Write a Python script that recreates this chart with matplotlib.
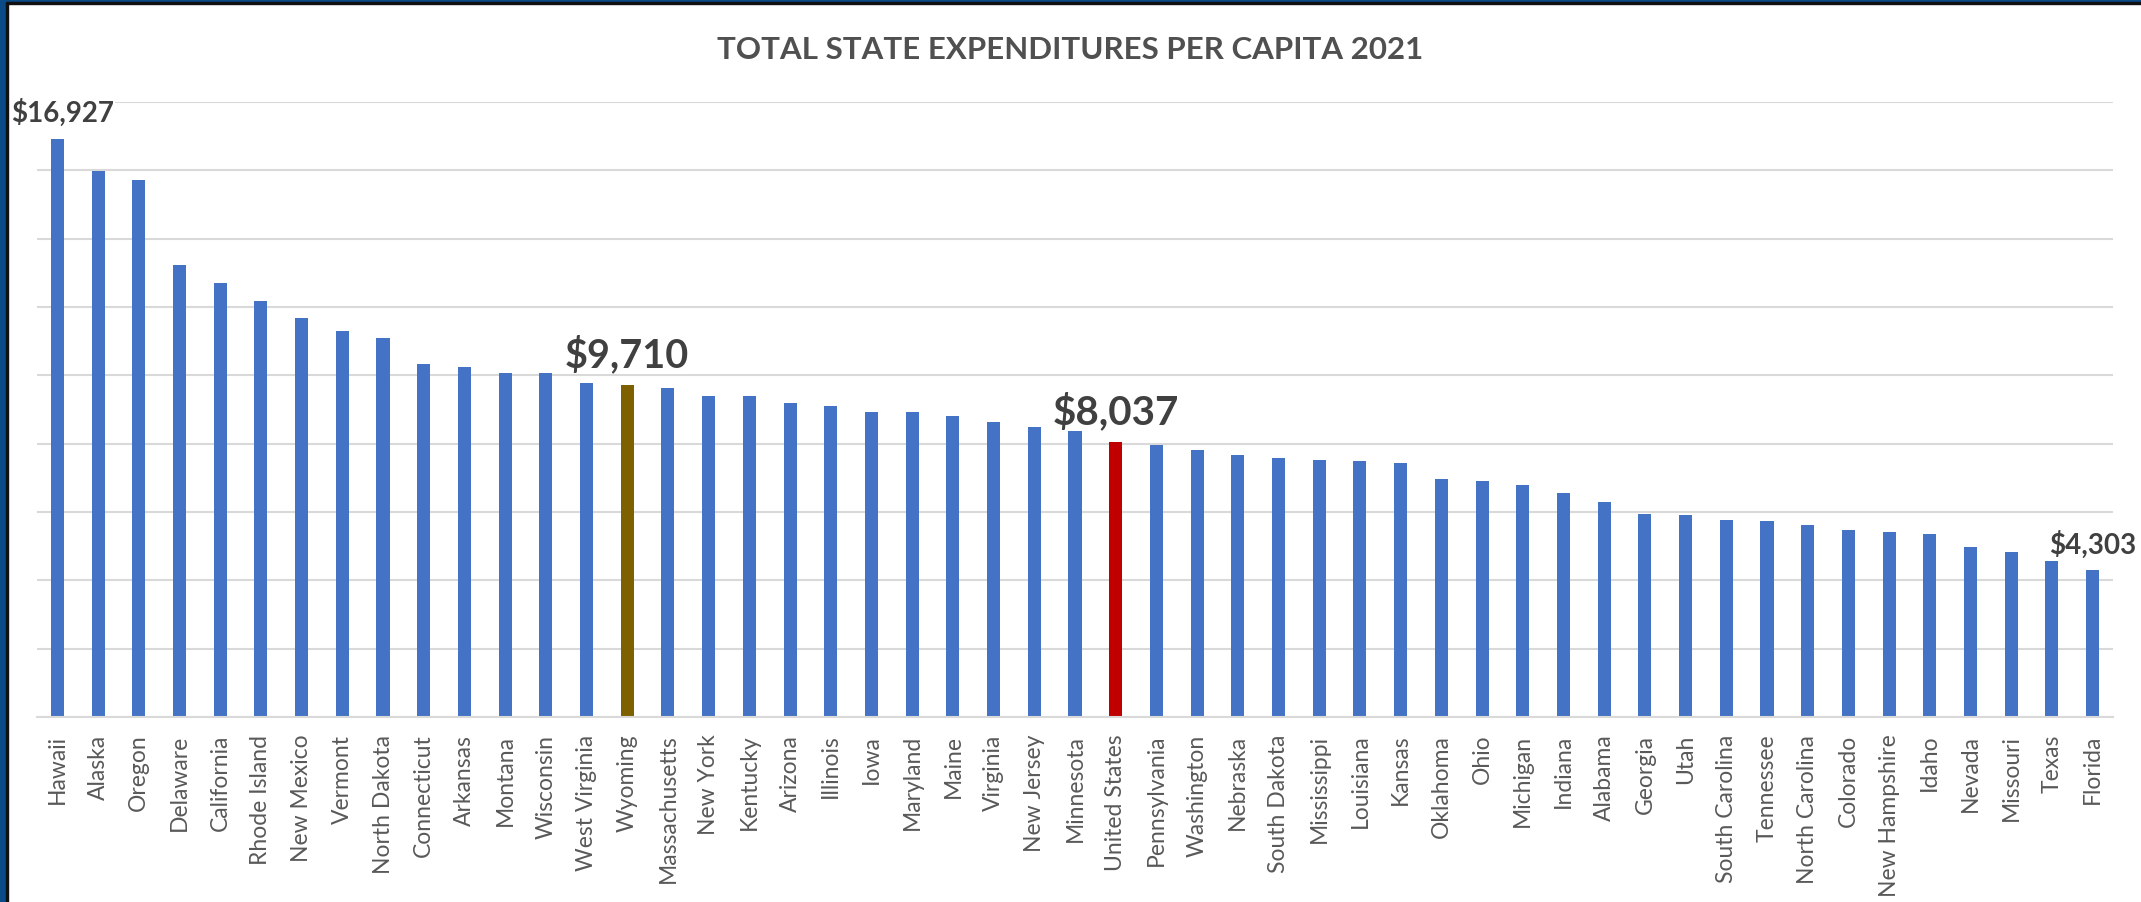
import matplotlib.pyplot as plt
from matplotlib.patches import Rectangle

states = ['Hawaii', 'Alaska', 'Oregon', 'Delaware', 'California', 'Rhode Island',
          'New Mexico', 'Vermont', 'North Dakota', 'Connecticut', 'Arkansas', 'Montana',
          'Wisconsin', 'West Virginia', 'Wyoming', 'Massachusetts', 'New York', 'Kentucky',
          'Arizona', 'Illinois', 'Iowa', 'Maryland', 'Maine', 'Virginia', 'New Jersey',
          'Minnesota', 'United States', 'Pennsylvania', 'Washington', 'Nebraska',
          'South Dakota', 'Mississippi', 'Louisiana', 'Kansas', 'Oklahoma', 'Ohio',
          'Michigan', 'Indiana', 'Alabama', 'Georgia', 'Utah', 'South Carolina',
          'Tennessee', 'North Carolina', 'Colorado', 'New Hampshire', 'Idaho', 'Nevada',
          'Missouri', 'Texas', 'Florida']

spending = [16927, 15970, 15725, 13215, 12700, 12175, 11676, 11286, 11081, 10328,
            10250, 10075, 10065, 9776, 9710, 9620, 9405, 9395, 9180, 9112,
            8927, 8925, 8820, 8634, 8488, 8410, 8037, 7971, 7824, 7678,
            7580, 7532, 7502, 7434, 6966, 6898, 6800, 6556, 6283, 5951,
            5922, 5776, 5727, 5629, 5463, 5424, 5366, 4976, 4820, 4566, 4303]

labelled = ['Hawaii', 'Wyoming', 'United States', 'Florida']
label_size = {'Hawaii': 20, 'Wyoming': 28.5, 'United States': 29, 'Florida': 20}
label_shift = {'Hawaii': 4, 'Wyoming': 0, 'United States': 0, 'Florida': 0}

colors = []
for s in states:
    if s == 'Wyoming':
        colors.append('#7F6000')
    elif s == 'United States':
        colors.append('#C00000')
    else:
        colors.append('#4472C4')

plt.rcParams['font.family'] = ['Lato', 'DejaVu Sans']

fig = plt.figure(figsize=(21.41, 9.03), dpi=100)
ax = fig.add_axes([37 / 2141, 185 / 903, 2076 / 2141, 615 / 903])

x = range(len(states))
ax.bar(x, spending, width=0.32, color=colors, zorder=2)

ax.set_xlim(-0.5, len(states) - 0.5)
ax.set_ylim(0, 18000)
ax.set_yticks(range(0, 18001, 2000))
ax.set_yticklabels([])
ax.grid(axis='y', color='#D9D9D9', linewidth=1.5, zorder=0)
ax.tick_params(axis='y', length=0)
ax.set_xticks(list(x))
ax.set_xticklabels(states, rotation=90, fontsize=16.5, color='#595959')
ax.tick_params(axis='x', length=0, pad=12)
for side in ['top', 'right', 'left']:
    ax.spines[side].set_visible(False)
ax.spines['bottom'].set_color('#D9D9D9')
ax.spines['bottom'].set_linewidth(1.5)

for i, (s, v) in enumerate(zip(states, spending)):
    if s in labelled:
        ax.annotate(f'${v:,}', xy=(i, v), xytext=(label_shift[s], 9),
                    textcoords='offset points', ha='center', va='bottom',
                    fontsize=label_size[s], fontweight='bold', color='#404040', zorder=4,
                    bbox=dict(facecolor='white', edgecolor='none', pad=0.5))

fig.text(0.5, 1 - 50 / 903, 'TOTAL STATE EXPENDITURES PER CAPITA 2021', ha='center',
         va='center', fontsize=22.5, fontweight='bold', color='#505050')

# frame on the top and left edges
fig.patches.append(Rectangle((0, 0), 6 / 2141, 1, transform=fig.transFigure,
                             color='#0A4A86', zorder=10))
fig.patches.append(Rectangle((6 / 2141, 0), 2 / 2141, 1 - 3 / 903, transform=fig.transFigure,
                             color='#111111', zorder=10))
fig.patches.append(Rectangle((0, 1 - 3 / 903), 1, 3 / 903, transform=fig.transFigure,
                             color='#0A4A86', zorder=10))
fig.patches.append(Rectangle((6 / 2141, 1 - 5 / 903), 1, 2 / 903, transform=fig.transFigure,
                             color='#111111', zorder=10))

fig.savefig('out.png', dpi=100)
